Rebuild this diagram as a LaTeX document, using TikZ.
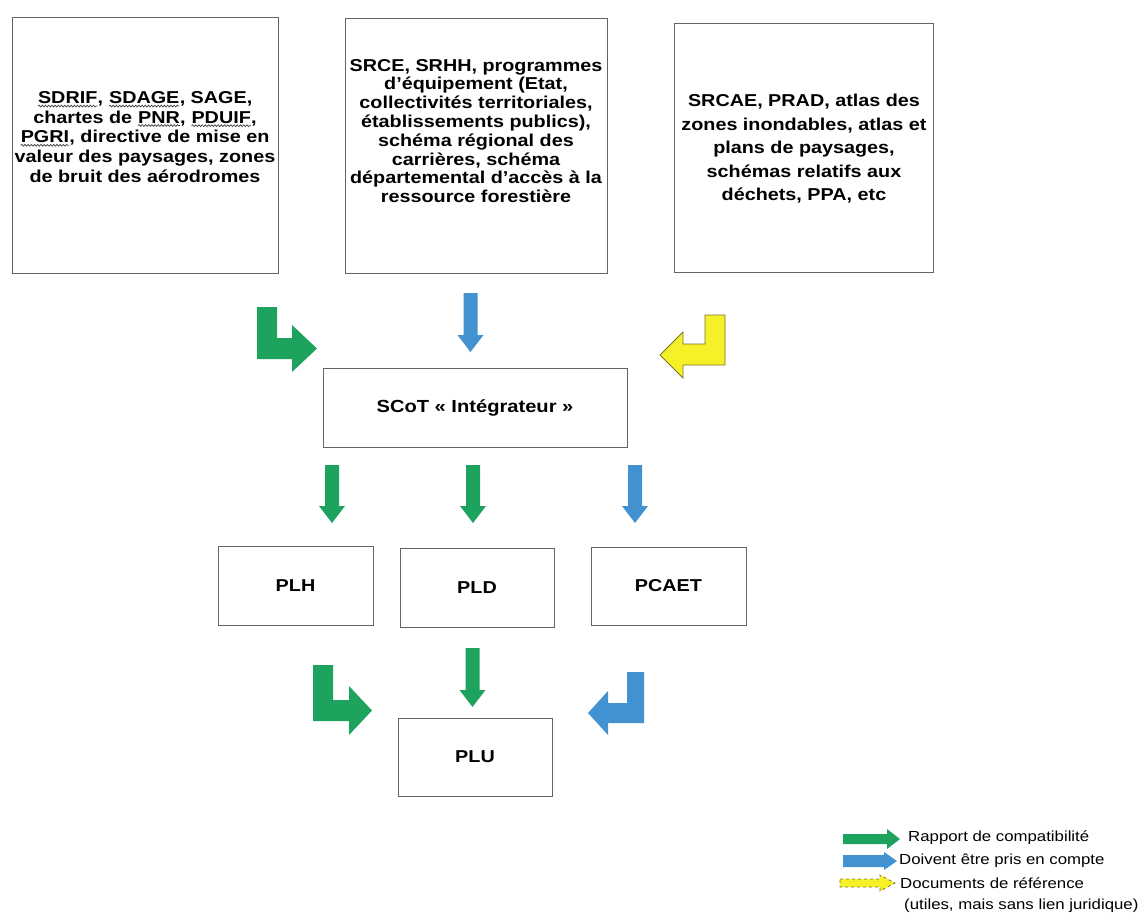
\documentclass[tikz,border=0pt]{standalone}
\usepackage{fontspec}
\setmainfont{Liberation Sans}[FakeStretch=1.15]
\usetikzlibrary{decorations.pathmorphing}
\definecolor{cgreen}{RGB}{30,163,95}
\definecolor{cblue}{RGB}{66,146,210}
\definecolor{cyellow}{RGB}{246,240,40}
\definecolor{cyline}{RGB}{120,115,40}
\definecolor{boxline}{RGB}{100,100,100}
\newcommand{\dnarrow}[4]{\fill[#1] (#2-7,#3) -- (#2+7,#3) -- (#2+7,#4-17) -- (#2+13,#4-17) -- (#2,#4) -- (#2-13,#4-17) -- (#2-7,#4-17) -- cycle;}
\newcommand{\wv}[1]{\tikz[baseline=(w.base), x=1pt, y=1pt]{\node[inner sep=0pt, outer sep=0pt] (w) {#1}; \draw[decorate, decoration={snake, amplitude=0.9pt, segment length=3.2pt}, line width=0.7pt, black!75] ([yshift=-2.2pt]w.south west) -- ([yshift=-2.2pt]w.south east);}}
\begin{document}
\begin{tikzpicture}[x=1pt,y=-1pt,
  box/.style={draw=boxline, line width=0.9pt, fill=white, inner sep=0pt},
  txt/.style={font=\fontsize{17.2}{19.6}\selectfont\bfseries, align=center, inner sep=0pt},
  leg/.style={font=\fontsize{14.6}{17}\selectfont, anchor=west, inner sep=0pt}]
\useasboundingbox[fill=white] (0,0) rectangle (1138,921);

% top boxes
\node[box, minimum width=266pt, minimum height=256pt] (b1) at (145,145) {};
\node[box, minimum width=262pt, minimum height=255pt] (b2) at (476,145.5) {};
\node[box, minimum width=259pt, minimum height=249pt] (b3) at (803.5,147.5) {};
\node[txt] (t1) at (145,137) {\wv{SDRIF}, \wv{SDAGE}, SAGE,\\ chartes de \wv{PNR}, \wv{PDUIF},\\ \wv{PGRI}, directive de mise en\\ valeur des paysages, zones\\ de bruit des aérodromes};
\node[txt, font=\fontsize{17.2}{18.8}\selectfont\bfseries] (t2) at (476,131) {SRCE, SRHH, programmes\\ d'équipement (Etat,\\ collectivités territoriales,\\ établissements publics),\\ schéma régional des\\ carrières, schéma\\ départemental d'accès à la\\ ressource forestière};
\node[txt, font=\fontsize{17.2}{23.5}\selectfont\bfseries] (t3) at (804,149) {SRCAE, PRAD, atlas des\\ zones inondables, atlas et\\ plans de paysages,\\ schémas relatifs aux\\ déchets, PPA, etc};

% middle boxes
\node[box, minimum width=304pt, minimum height=79pt, font=\fontsize{17.5}{20}\selectfont\bfseries] (scot) at (475,407.5) {SCoT « Intégrateur »};
\node[box, minimum width=155pt, minimum height=79pt, font=\fontsize{17.2}{20}\selectfont\bfseries] (plh) at (295.5,585.5) {PLH};
\node[box, minimum width=154pt, minimum height=79pt, font=\fontsize{17.2}{20}\selectfont\bfseries] (pld) at (477,587.5) {PLD};
\node[box, minimum width=155pt, minimum height=78pt, font=\fontsize{17.2}{20}\selectfont\bfseries] (pcaet) at (668.5,586) {PCAET};
\node[box, minimum width=154pt, minimum height=78pt, font=\fontsize{17.2}{20}\selectfont\bfseries] (plu) at (475,757) {PLU};

% block arrows, top level
\fill[cgreen] (257,307) -- (277,307) -- (277,338) -- (292,338) -- (292,325) -- (317,348.5) -- (292,372) -- (292,359) -- (257,359) -- cycle;
\dnarrow{cblue}{470.5}{293}{352}
\filldraw[fill=cyellow, draw=cyline, line width=0.8pt] (725,315) -- (705,315) -- (705,344) -- (683,344) -- (683,332) -- (660,355) -- (683,378) -- (683,365) -- (725,365) -- cycle;

% under SCoT
\dnarrow{cgreen}{332}{465}{523}
\dnarrow{cgreen}{473}{465}{523}
\dnarrow{cblue}{635}{465}{523}

% towards PLU
\fill[cgreen] (313,665) -- (333,665) -- (333,700) -- (349,700) -- (349,686) -- (372,710.5) -- (349,735) -- (349,721) -- (313,721) -- cycle;
\dnarrow{cgreen}{472.5}{648}{707}
\fill[cblue] (644,672) -- (627,672) -- (627,703) -- (608,703) -- (608,691) -- (588,713) -- (608,735) -- (608,723) -- (644,723) -- cycle;

% legend
\fill[cgreen] (843,834) -- (887,834) -- (887,829) -- (900,839) -- (887,849) -- (887,844) -- (843,844) -- cycle;
\fill[cblue] (843,855) -- (884,855) -- (884,852) -- (897,861) -- (884,870) -- (884,867) -- (843,867) -- cycle;
\filldraw[fill=cyellow, draw=cyline, dashed, line width=0.8pt] (840,879) -- (880,879) -- (880,875) -- (895,883) -- (880,891) -- (880,887) -- (840,887) -- cycle;
\node[leg] (l1) at (908,838) {Rapport de compatibilité};
\node[leg] (l2) at (899,861) {Doivent être pris en compte};
\node[leg] (l3) at (900,883) {Documents de référence};
\node[leg] (l4) at (904,906) {(utiles, mais sans lien juridique)};
\end{tikzpicture}
\end{document}
